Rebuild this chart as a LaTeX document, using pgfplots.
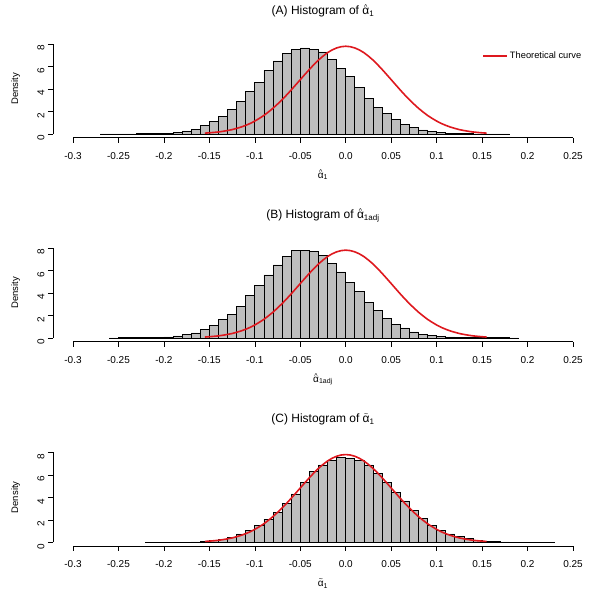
\documentclass[border=0pt]{standalone}
\usepackage{fontspec}
\setmainfont{Liberation Sans}
\usepackage{pgfplots}
\usepackage{pgfplotstable}
\pgfplotsset{compat=1.18}
\definecolor{histgray}{RGB}{190,190,190}
\definecolor{curvered}{RGB}{222,24,30}

% alpha with an accent stacked above it (R plotmath style)
\newcommand{\accalpha}[2]{\leavevmode\vbox{\offinterlineskip\halign{\hfil##\hfil\cr{\scriptsize#2}\cr\noalign{\kern#1}α\cr}}}
\newcommand{\ahat}{\accalpha{-1.2pt}{\^{}}}
\newcommand{\atil}{\accalpha{-0.2pt}{\~{}}}

\pgfplotstableread{
x y
-0.27 0.004
-0.26 0.004
-0.25 0.006
-0.24 0.010
-0.23 0.015
-0.22 0.025
-0.21 0.040
-0.20 0.070
-0.19 0.14
-0.18 0.28
-0.17 0.44
-0.16 0.74
-0.15 1.09
-0.14 1.57
-0.13 2.20
-0.12 2.87
-0.11 3.75
-0.10 4.60
-0.09 5.66
-0.08 6.50
-0.07 7.20
-0.06 7.55
-0.05 7.65
-0.04 7.55
-0.03 7.30
-0.02 6.60
-0.01 5.85
0.00 5.10
0.01 4.14
0.02 3.20
0.03 2.37
0.04 1.83
0.05 1.27
0.06 0.83
0.07 0.59
0.08 0.36
0.09 0.20
0.10 0.12
0.11 0.06
0.12 0.035
0.13 0.020
0.14 0.012
0.15 0.008
0.16 0.005
0.17 0.004
0.18 0
}\histA

\pgfplotstableread{
x y
-0.26 0.004
-0.25 0.005
-0.24 0.008
-0.23 0.012
-0.22 0.020
-0.21 0.040
-0.20 0.09
-0.19 0.18
-0.18 0.30
-0.17 0.44
-0.16 0.74
-0.15 1.12
-0.14 1.62
-0.13 2.10
-0.12 2.83
-0.11 3.75
-0.10 4.69
-0.09 5.60
-0.08 6.49
-0.07 7.23
-0.06 7.76
-0.05 7.76
-0.04 7.67
-0.03 7.32
-0.02 6.64
-0.01 5.87
0.00 4.93
0.01 4.13
0.02 3.19
0.03 2.45
0.04 1.71
0.05 1.21
0.06 0.89
0.07 0.53
0.08 0.32
0.09 0.24
0.10 0.15
0.11 0.09
0.12 0.05
0.13 0.03
0.14 0.020
0.15 0.012
0.16 0.008
0.17 0.005
0.18 0.004
0.19 0
}\histB

\pgfplotstableread{
x y
-0.22 0.004
-0.21 0.005
-0.20 0.008
-0.19 0.012
-0.18 0.020
-0.17 0.040
-0.16 0.08
-0.15 0.18
-0.14 0.26
-0.13 0.44
-0.12 0.74
-0.11 1.09
-0.10 1.47
-0.09 2.06
-0.08 2.65
-0.07 3.44
-0.06 4.30
-0.05 5.35
-0.04 6.30
-0.03 6.88
-0.02 7.26
-0.01 7.56
0.00 7.50
0.01 7.26
0.02 6.88
0.03 6.09
0.04 5.35
0.05 4.47
0.06 3.68
0.07 2.85
0.08 2.12
0.09 1.53
0.10 1.09
0.11 0.74
0.12 0.50
0.13 0.35
0.14 0.20
0.15 0.10
0.16 0.05
0.17 0.03
0.18 0.020
0.19 0.012
0.20 0.008
0.21 0.005
0.22 0.004
0.23 0
}\histC

\pgfplotstableread{
x y
-0.155 0.078
-0.150 0.105
-0.145 0.14
-0.140 0.18
-0.135 0.24
-0.130 0.31
-0.125 0.39
-0.120 0.50
-0.115 0.62
-0.110 0.77
-0.105 0.94
-0.100 1.15
-0.095 1.39
-0.090 1.65
-0.085 1.96
-0.080 2.29
-0.075 2.66
-0.070 3.05
-0.065 3.47
-0.060 3.91
-0.055 4.37
-0.050 4.83
-0.045 5.29
-0.040 5.74
-0.035 6.17
-0.030 6.57
-0.025 6.92
-0.020 7.23
-0.015 7.47
-0.010 7.65
-0.005 7.76
0.000 7.80
0.005 7.76
0.010 7.65
0.015 7.47
0.020 7.23
0.025 6.92
0.030 6.57
0.035 6.17
0.040 5.74
0.045 5.29
0.050 4.83
0.055 4.37
0.060 3.91
0.065 3.47
0.070 3.05
0.075 2.66
0.080 2.29
0.085 1.96
0.090 1.65
0.095 1.39
0.100 1.15
0.105 0.94
0.110 0.77
0.115 0.62
0.120 0.50
0.125 0.39
0.130 0.31
0.135 0.24
0.140 0.18
0.145 0.14
0.150 0.105
0.155 0.078
}\curve

\pgfplotsset{
  rhist/.style={
    scale only axis, width=540pt, height=97.2pt,
    xmin=-0.322, xmax=0.272, ymin=-0.32, ymax=8.32,
    clip=false,
    axis line style={draw=none},
    tick align=outside, major tick length=5pt,
    xtick pos=bottom, ytick pos=left,
    xtick={-0.3,-0.25,-0.2,-0.15,-0.1,-0.05,0,0.05,0.1,0.15,0.2,0.25},
    xticklabels={-0.3,-0.25,-0.2,-0.15,-0.1,-0.05,0.0,0.05,0.1,0.15,0.2,0.25},
    ytick={0,2,4,6,8},
    yticklabels={0,2,4,6,8},
    tick style={black, line width=0.6pt},
    xticklabel style={font=\fontsize{10}{12}\selectfont, anchor=north, yshift=-6pt},
    yticklabel style={font=\fontsize{10}{12}\selectfont, rotate=90, anchor=south, xshift=-4pt},
    title style={at={(axis description cs:0.5,1.203)}, anchor=base, font=\fontsize{12}{14}\selectfont},
    xlabel style={at={(axis description cs:0.5,-0.419)}, anchor=base, font=\fontsize{10}{12}\selectfont},
    ylabel style={at={(axis description cs:-0.0648,0.5)}, anchor=base, font=\fontsize{9.5}{11}\selectfont},
    ylabel={Density},
  },
  histbars/.style={ybar interval, fill=histgray, draw=black, line width=0.7pt},
  theo/.style={curvered, line width=1.6pt, line join=round},
}

\begin{document}
\begin{tikzpicture}[x=1pt,y=1pt]
\path[use as bounding box] (0,0) rectangle (590,-600);

% (A)
\begin{axis}[rhist, at={(53pt,-137.6pt)}, anchor=south west,
  title={(A) Histogram of \ahat\textsubscript{1}},
  xlabel={\ahat\textsubscript{1}},
  legend style={draw=none, fill=none, at={(axis description cs:0.988,0.925)}, anchor=north east,
    font=\fontsize{9.3}{11}\selectfont},
  legend cell align=left,
  legend image code/.code={\draw[#1, line width=1.4pt] (0pt,0pt) -- (19pt,0pt); \path (0pt,0pt) -- (24pt,0pt);}]
\addplot[histbars, forget plot] table[x=x,y=y] {\histA};
\addplot[theo] table[x=x,y=y] {\curve};
\addlegendentry{Theoretical curve}
\draw[line width=0.6pt] (axis cs:-0.3,-0.32) -- (axis cs:0.25,-0.32);
\draw[line width=0.6pt] (axis cs:-0.322,0) -- (axis cs:-0.322,8);
\end{axis}

% (B)
\begin{axis}[rhist, at={(53pt,-341.5pt)}, anchor=south west,
  title={(B) Histogram of \ahat\textsubscript{1adj}},
  xlabel={\ahat\textsubscript{1adj}}]
\addplot[histbars] table[x=x,y=y] {\histB};
\addplot[theo] table[x=x,y=y] {\curve};
\draw[line width=0.6pt] (axis cs:-0.3,-0.32) -- (axis cs:0.25,-0.32);
\draw[line width=0.6pt] (axis cs:-0.322,0) -- (axis cs:-0.322,8);
\end{axis}

% (C)
\begin{axis}[rhist, at={(53pt,-545.9pt)}, anchor=south west,
  title={(C) Histogram of \atil\textsubscript{1}},
  xlabel={\atil\textsubscript{1}}]
\addplot[histbars] table[x=x,y=y] {\histC};
\addplot[theo] table[x=x,y=y] {\curve};
\draw[line width=0.6pt] (axis cs:-0.3,-0.32) -- (axis cs:0.25,-0.32);
\draw[line width=0.6pt] (axis cs:-0.322,0) -- (axis cs:-0.322,8);
\end{axis}
\end{tikzpicture}
\end{document}
